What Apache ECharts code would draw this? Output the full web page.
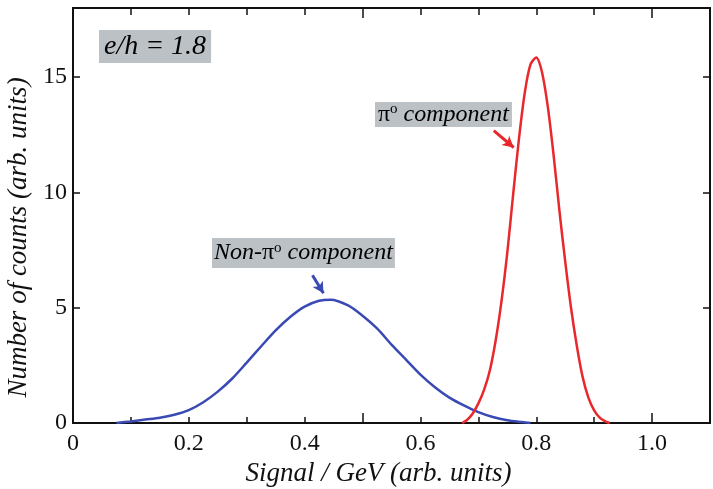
<!DOCTYPE html>
<html>
<head>
<meta charset="utf-8">
<script src="https://cdn.jsdelivr.net/npm/echarts@6/dist/echarts.min.js"></script>
<style>
  html, body { margin: 0; padding: 0; background: #fff; }
  #chart { width: 713px; height: 489px; }
</style>
</head>
<body>
<div id="chart"></div>
<script>
// signal (GeV) and counts
var nonPiX = [0.075, 0.10, 0.125, 0.15, 0.175, 0.20, 0.225, 0.25, 0.275, 0.30, 0.325, 0.35, 0.375, 0.40, 0.425, 0.445,
              0.475, 0.50, 0.525, 0.55, 0.575, 0.60, 0.625, 0.65, 0.675, 0.70, 0.725, 0.75, 0.775, 0.79];
var nonPiY = [0, 0.07, 0.15, 0.23, 0.36, 0.56, 0.90, 1.36, 1.93, 2.62, 3.33, 4.02, 4.60, 5.05, 5.30, 5.35,
              5.10, 4.65, 4.10, 3.40, 2.75, 2.10, 1.55, 1.10, 0.76, 0.47, 0.26, 0.12, 0.04, 0];

var piX = [0.672, 0.68, 0.69, 0.70, 0.71, 0.72, 0.73, 0.74, 0.75, 0.76, 0.77, 0.78, 0.79, 0.80,
           0.81, 0.82, 0.83, 0.84, 0.85, 0.86, 0.87, 0.88, 0.89, 0.90, 0.91, 0.92, 0.927];
var piY = [0, 0.12, 0.40, 0.85, 1.45, 2.30, 3.60, 5.30, 7.40, 9.90, 12.30, 14.30, 15.55, 15.85,
           15.20, 13.70, 11.60, 9.20, 7.00, 5.00, 3.35, 2.00, 1.10, 0.55, 0.22, 0.06, 0];

var xTickLabels = ['0', '0.2', '0.4', '0.6', '0.8', '1.0'];
var yTickLabels = ['0', '5', '10', '15'];

var serif = '"Liberation Serif", "DejaVu Serif", serif';
var blue = '#3a4ab4';
var red = '#e8282c';
var boxGray = '#bcc1c6';

function pairs(xs, ys) {
  var out = [];
  for (var i = 0; i < xs.length; i++) out.push([xs[i], ys[i]]);
  return out;
}

var myChart = echarts.init(document.getElementById('chart'));

function xAxisBase(pos, tickLen, interval, showLabels, name) {
  return {
    type: 'value', position: pos, min: 0, max: 1.1, interval: interval,
    name: name || '', nameLocation: 'middle', nameGap: 36,
    nameTextStyle: { fontFamily: serif, fontStyle: 'italic', fontSize: 27, color: '#111', padding: [0, 26, 0, 0] },
    axisLine: { show: true, onZero: false, lineStyle: { color: '#111', width: 2 } },
    axisTick: { show: true, inside: true, length: tickLen, lineStyle: { color: '#111', width: 1.5 } },
    axisLabel: {
      show: showLabels, margin: 9, fontFamily: serif, fontSize: 24, color: '#111', showMaxLabel: false,
      formatter: function (v) {
        var k = Math.round(v * 10);
        if (k % 2 !== 0) return '';
        var lab = xTickLabels[k / 2];
        return lab === undefined ? '' : lab;
      }
    },
    splitLine: { show: false }
  };
}

function yAxisBase(pos, showLabels, name) {
  return {
    type: 'value', position: pos, min: 0, max: 18, interval: 5,
    name: name || '', nameLocation: 'middle', nameGap: 37, nameRotate: 90,
    nameTextStyle: { fontFamily: serif, fontStyle: 'italic', fontSize: 27, color: '#111', padding: [0, 44, 0, 0] },
    axisLine: { show: true, onZero: false, lineStyle: { color: '#111', width: 2 } },
    axisTick: { show: true, inside: true, length: 7, lineStyle: { color: '#111', width: 1.5 } },
    axisLabel: {
      show: showLabels, margin: 6, fontFamily: serif, fontSize: 24, color: '#111', showMaxLabel: false,
      formatter: function (v) {
        var lab = yTickLabels[Math.round(v / 5)];
        return (v % 5 === 0 && lab !== undefined) ? lab : '';
      }
    },
    splitLine: { show: false }
  };
}

var boxText = function (x, y, rich, content, pad) {
  return {
    type: 'text', left: x, top: y, z: 10,
    style: {
      text: content, rich: rich,
      backgroundColor: boxGray, padding: pad
    }
  };
};

var option = {
  backgroundColor: '#fff',
  animation: false,
  grid: { left: 73, top: 8, right: 3, bottom: 66, containLabel: false, outerBoundsMode: 'none' },
  xAxis: [
    xAxisBase('bottom', 6, 0.1, true, 'Signal / GeV (arb. units)'),
    xAxisBase('top', 7, 0.1, false),
    xAxisBase('bottom', 10, 0.5, false),
    xAxisBase('top', 10, 0.5, false)
  ],
  yAxis: [
    yAxisBase('left', true, 'Number of counts (arb. units)'),
    yAxisBase('right', false)
  ],
  series: [
    {
      name: 'Non-pi0', type: 'line', smooth: 0.3, symbol: 'none',
      data: pairs(nonPiX, nonPiY),
      lineStyle: { color: blue, width: 2.5 },
      markLine: {
        silent: true, symbol: ['none', 'arrow'], symbolSize: [9, 11],
        label: { show: false },
        lineStyle: { color: blue, width: 3, type: 'solid' },
        data: [[{ coord: [0.4135, 6.41] }, { coord: [0.4325, 5.63] }]]
      }
    },
    {
      name: 'pi0', type: 'line', smooth: 0.3, symbol: 'none',
      data: pairs(piX, piY),
      lineStyle: { color: red, width: 2.5 },
      markLine: {
        silent: true, symbol: ['none', 'arrow'], symbolSize: [9, 11],
        label: { show: false },
        lineStyle: { color: red, width: 3, type: 'solid' },
        data: [[{ coord: [0.7266, 12.68] }, { coord: [0.761, 11.95] }]]
      }
    }
  ],
  graphic: [
    boxText(99, 30, {
      t: { fontFamily: serif, fontStyle: 'italic', fontSize: 28, color: '#111', lineHeight: 29 }
    }, '{t|e/h = 1.8}', [2, 5, 2, 5]),
    boxText(375, 102, {
      p: { fontFamily: serif, fontSize: 24, color: red, lineHeight: 21 },
      s: { fontFamily: serif, fontSize: 15, color: red, lineHeight: 21, padding: [0, 0, 10, 0] },
      t: { fontFamily: serif, fontStyle: 'italic', fontSize: 24, color: red, lineHeight: 21 }
    }, '{p|π}{s|o}{t| component}', [2, 3, 2, 3]),
    boxText(212, 238, {
      p: { fontFamily: serif, fontSize: 24, color: blue, lineHeight: 26 },
      s: { fontFamily: serif, fontSize: 15, color: blue, lineHeight: 26, padding: [0, 0, 10, 0] },
      t: { fontFamily: serif, fontStyle: 'italic', fontSize: 24, color: blue, lineHeight: 26 }
    }, '{t|Non-}{p|π}{s|o}{t| component}', [2, 2, 2, 2])
  ]
};

myChart.setOption(option);
</script>
</body>
</html>
